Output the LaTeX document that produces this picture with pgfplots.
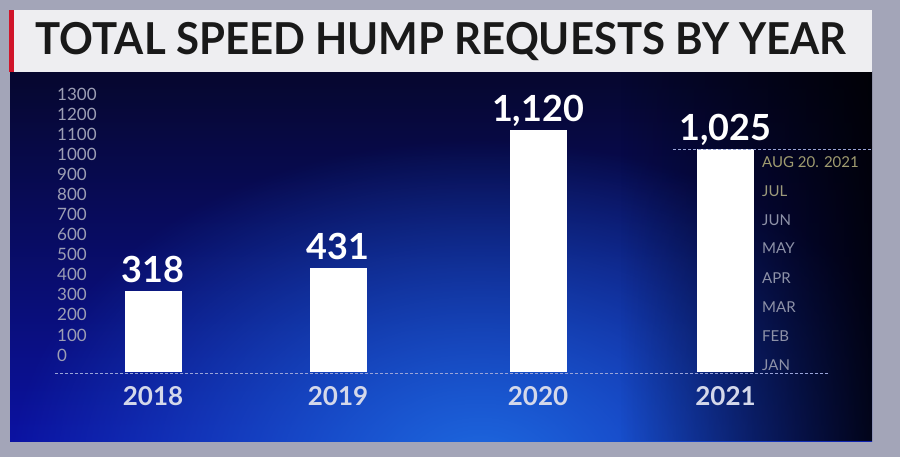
\documentclass[border=0pt]{standalone}
\usepackage{pgfplots}
\pgfplotsset{compat=1.18}
\usepackage{fontspec}
\setmainfont{Lato}
\usetikzlibrary{fadings}
\definecolor{panelTop}{HTML}{06072E}
\definecolor{panelBot}{HTML}{0B12A2}
\definecolor{glow}{HTML}{1E6AE0}
\definecolor{frameGray}{HTML}{A3A5B8}
\definecolor{titleBg}{HTML}{EEEEF1}
\definecolor{stripeRed}{HTML}{D0142A}
\definecolor{tickGray}{HTML}{9C9EB4}
\definecolor{monthGray}{HTML}{8E92A8}
\definecolor{monthOlive}{HTML}{A09C70}
\definecolor{yearGray}{HTML}{D4D8EA}
\definecolor{dashCol}{HTML}{9AA4D8}
\tikzfading[name=darkright, left color=transparent!100, right color=transparent!0]
\tikzfading[name=glowfade, inner color=transparent!0, outer color=transparent!100]
\newcommand\fs[1]{\fontsize{#1}{#1}\selectfont}

\begin{document}
\begin{tikzpicture}[x=1pt,y=1pt]
\useasboundingbox (0,0) rectangle (900,-457);
\fill[frameGray] (0,0) rectangle (900,-457);
% blue panel
\begin{scope}
\clip (10,-72) rectangle (872,-441);
\shade[top color=panelTop, bottom color=panelBot] (10,-72) rectangle (872,-441);
\fill[glow, path fading=glowfade] (480,-470) ellipse (470 and 330);
\fill[black, path fading=darkright, opacity=0.85] (620,-72) rectangle (872,-441);
\end{scope}
% title bar
\fill[titleBg] (9,-10) rectangle (872,-72);
\fill[stripeRed] (9,-10) rectangle (14,-72);
\node[anchor=base west, inner sep=0, font=\fs{44}\bfseries, text=black!90] at (35.5,-55)
  {\scalebox{0.953}[1]{TOTAL SPEED HUMP REQUESTS BY YEAR}};

\begin{axis}[
    at={(55pt,-371pt)}, anchor=south west,
    scale only axis, width=773pt, height=279pt,
    xmin=55, xmax=828, ymin=-79.7, ymax=1310,
    clip=false,
    axis line style={draw=none}, major tick length=0pt,
    xtick={153,338,538,725.5}, xticklabels={2018,2019,2020,2021},
    ytick={0,100,...,1300},
    xticklabel style={anchor=base, yshift=-34pt, font=\fs{26}\bfseries, text=yearGray},
    yticklabel style={anchor=west, inner sep=0pt, xshift=2pt, font=\fs{17}, text=tickGray,
      /pgf/number format/1000 sep={}},
    ybar, bar width=56pt,
    /pgf/number format/.cd, 1000 sep={,}, assume math mode=true,
]
% plinth: the graphic's bars run on below the 0 of its scale
\addplot[fill=white, draw=white, line width=0.4pt, bar shift=0pt]
  coordinates {(153,-79.7) (338,-79.7) (538,-79.7) (725.5,-79.7)};
\addplot[fill=white, draw=white, line width=0.4pt, bar shift=0pt,
    nodes near coords,
    every node near coord/.append style={anchor=base, yshift=9pt, font=\fs{36}\bfseries, text=white}]
  coordinates {(153,318) (338,431) (538,1120) (725.5,1025)};

\draw[dashCol, dash pattern=on 3pt off 2pt] (axis cs:55,-92) -- (axis cs:828,-92);
\draw[dashCol, dash pattern=on 3pt off 2pt] (axis cs:673,1025) -- (axis cs:871,1025);

\begin{scope}[every node/.style={anchor=west, inner sep=0pt, font=\fs{15}, text=monthGray}]
\node at (axis cs:762,-49.8) {JAN};
\node at (axis cs:762,94.6) {FEB};
\node at (axis cs:762,239) {MAR};
\node at (axis cs:762,383) {APR};
\node at (axis cs:762,533) {MAY};
\node at (axis cs:762,672) {JUN};
\node[text=monthOlive!80!monthGray] at (axis cs:762,817) {JUL};
\node[text=monthOlive] at (axis cs:762,961) {AUG 20. 2021};
\end{scope}
\end{axis}
\end{tikzpicture}
\end{document}
